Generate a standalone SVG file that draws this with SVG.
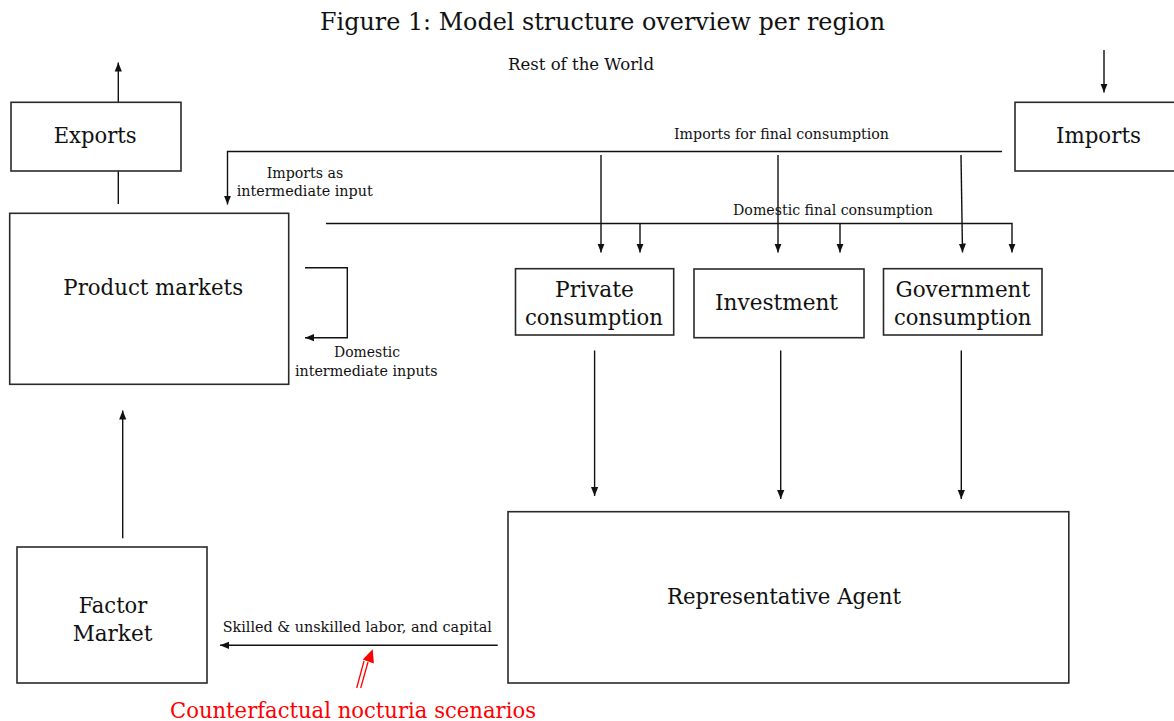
<svg xmlns="http://www.w3.org/2000/svg" width="1174" height="721" viewBox="0 0 1174 721">
<style>
text{font-family:"DejaVu Serif","Liberation Serif",serif;fill:#111;text-anchor:middle}
.box{fill:#fff;stroke:#2a2a2a;stroke-width:1.6}
.lbl{font-size:22px}
.sm{font-size:15px}
.xs{font-size:14px}
.ln{fill:none;stroke:#111;stroke-width:1.4}
.arr{fill:none;stroke:#111;stroke-width:1.4;marker-end:url(#ah)}
</style>
<defs>
<marker id="ah" viewBox="0 0 10 10" refX="10" refY="5" markerWidth="9" markerHeight="9" markerUnits="userSpaceOnUse" orient="auto">
<path d="M0,1 L10,5 L0,9 z" fill="#111"/>
</marker>
</defs>
<rect width="1174" height="721" fill="#fff"/>
<text x="602.5" y="30" style="font-size:24px" textLength="565" lengthAdjust="spacingAndGlyphs">Figure 1: Model structure overview per region</text>
<text x="581" y="70" style="font-size:16px" textLength="146" lengthAdjust="spacingAndGlyphs">Rest of the World</text>

<g id="connectors">
<line class="arr" x1="118.3" y1="102" x2="118.3" y2="62.5"/>
<line class="ln" x1="118.3" y1="171" x2="118.3" y2="204"/>
<line class="arr" x1="1104" y1="50" x2="1104" y2="92.5"/>
<polyline class="arr" points="1002,151.5 227.5,151.5 227.5,204.5"/>
<line class="arr" x1="601" y1="155" x2="601" y2="252.5"/>
<line class="arr" x1="778" y1="155" x2="778" y2="252.5"/>
<line class="arr" x1="961" y1="155" x2="962.5" y2="252.5"/>
<polyline class="arr" points="326,223.5 1012,223.5 1012,252.5"/>
<line class="arr" x1="640" y1="223.5" x2="640" y2="252.5"/>
<line class="arr" x1="840" y1="223.5" x2="840" y2="252.5"/>
<polyline class="arr" points="305,267.7 347.3,267.7 347.3,337.7 305,337.7"/>
<line class="arr" x1="594.6" y1="350.5" x2="594.6" y2="496"/>
<line class="arr" x1="780.7" y1="350.5" x2="780.7" y2="499"/>
<line class="arr" x1="961.3" y1="350.5" x2="961.3" y2="499"/>
<line class="arr" x1="122.7" y1="538.3" x2="122.7" y2="410.5"/>
<line class="arr" x1="497.7" y1="645.3" x2="220" y2="645.3"/>
</g>

<g id="edge-labels">
<text class="sm" x="781.5" y="139" textLength="215" lengthAdjust="spacingAndGlyphs">Imports for final consumption</text>
<text class="xs" x="305" y="177.7" textLength="76.7" lengthAdjust="spacingAndGlyphs">Imports as</text>
<text class="xs" x="304.7" y="195.7" textLength="136" lengthAdjust="spacingAndGlyphs">intermediate input</text>
<text class="sm" x="833" y="215" textLength="200" lengthAdjust="spacingAndGlyphs">Domestic final consumption</text>
<text class="xs" x="367" y="357.3" textLength="66" lengthAdjust="spacingAndGlyphs">Domestic</text>
<text class="xs" x="366.3" y="376" textLength="142.7" lengthAdjust="spacingAndGlyphs">intermediate inputs</text>
<text class="sm" x="357.3" y="631.7" textLength="269.3" lengthAdjust="spacingAndGlyphs">Skilled &amp; unskilled labor, and capital</text>
</g>

<g id="exports">
<rect class="box" x="11" y="102.3" width="170" height="68.7"/>
<text class="lbl" x="95.2" y="142.7" textLength="83" lengthAdjust="spacingAndGlyphs">Exports</text>
</g>
<g id="imports">
<rect class="box" x="1015" y="102.3" width="170" height="68.7"/>
<text class="lbl" x="1098.5" y="142.7" textLength="85" lengthAdjust="spacingAndGlyphs">Imports</text>
</g>
<g id="product-markets">
<rect class="box" x="9.7" y="213.3" width="279" height="171"/>
<text class="lbl" x="153.2" y="295" textLength="179.7" lengthAdjust="spacingAndGlyphs">Product markets</text>
</g>
<g id="private-consumption">
<rect class="box" x="515.5" y="268.7" width="158.2" height="66.3"/>
<text class="lbl" x="594.5" y="296.7" textLength="79" lengthAdjust="spacingAndGlyphs">Private</text>
<text class="lbl" x="594" y="324.5" textLength="138" lengthAdjust="spacingAndGlyphs">consumption</text>
</g>
<g id="investment">
<rect class="box" x="694" y="269" width="170" height="68.7"/>
<text class="lbl" x="776.5" y="309.5" textLength="123" lengthAdjust="spacingAndGlyphs">Investment</text>
</g>
<g id="government-consumption">
<rect class="box" x="883.5" y="268.7" width="158.5" height="66.3"/>
<text class="lbl" x="962.8" y="296.7" textLength="134.5" lengthAdjust="spacingAndGlyphs">Government</text>
<text class="lbl" x="962.7" y="324.5" textLength="137.4" lengthAdjust="spacingAndGlyphs">consumption</text>
</g>
<g id="representative-agent">
<rect class="box" x="508" y="511.7" width="560.8" height="171.3"/>
<text class="lbl" x="784" y="604.3" textLength="234" lengthAdjust="spacingAndGlyphs">Representative Agent</text>
</g>
<g id="factor-market">
<rect class="box" x="17" y="547" width="190" height="136"/>
<text class="lbl" x="113" y="613.3" textLength="68.7" lengthAdjust="spacingAndGlyphs">Factor</text>
<text class="lbl" x="112.5" y="641" textLength="79.7" lengthAdjust="spacingAndGlyphs">Market</text>
</g>

<g id="counterfactual">
<line x1="356.7" y1="688" x2="364" y2="661" stroke="#f00" stroke-width="1.3"/>
<line x1="360.7" y1="688" x2="368" y2="662" stroke="#f00" stroke-width="1.3"/>
<polygon points="372.7,649.3 362.7,659.5 373.9,663.5" fill="#f00"/>
<text x="353" y="717.5" style="font-size:22px;fill:#f00" textLength="366" lengthAdjust="spacingAndGlyphs">Counterfactual nocturia scenarios</text>
</g>
</svg>
